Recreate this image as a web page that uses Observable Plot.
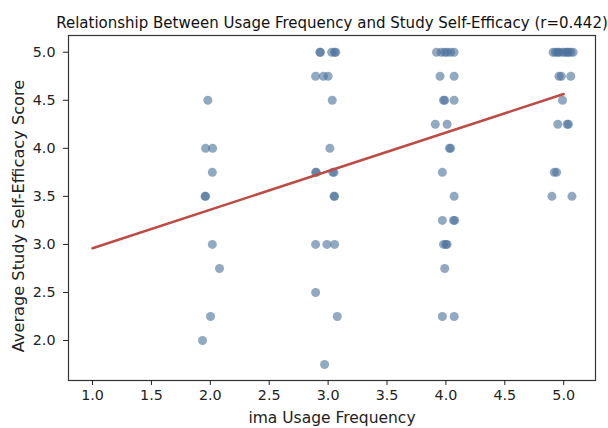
<!DOCTYPE html>
<html>
<head>
<meta charset="utf-8">
<script src="https://cdn.jsdelivr.net/npm/d3@7"></script>
<script src="https://cdn.jsdelivr.net/npm/@observablehq/plot@0.6"></script>
<style>
  html, body { margin: 0; padding: 0; background: #fff; }
  #chart svg { display: block; }
</style>
</head>
<body>
<div id="chart"></div>
<script>
// Jittered usage frequency (x) and average self-efficacy score (y)
const freq = [
  // ~2
  1.979, 1.96, 2.02, 2.017, 1.96, 1.955, 2.017, 2.078, 2.002, 1.934,
  // ~3
  2.93, 2.935, 3.03, 3.055, 3.065,
  2.894, 2.96, 3.0,
  3.035,
  3.015,
  2.894, 2.90, 3.04, 3.05,
  3.05, 3.055,
  2.894, 2.99, 3.055,
  2.894,
  3.078,
  2.97,
  // ~4
  3.92, 3.96, 3.99, 4.01, 4.04, 4.07,
  3.95, 4.07,
  3.98, 3.99, 4.07,
  3.91, 4.01,
  4.03, 4.04,
  3.97,
  4.07,
  3.97, 4.065, 4.075,
  3.98, 4.0, 4.01,
  3.99,
  3.97, 4.07,
  // ~5
  4.91, 4.93, 4.95, 4.96, 4.99, 5.01, 5.03, 5.04, 5.06, 5.08,
  4.96, 4.98, 5.06,
  4.99,
  4.95, 5.03, 5.04,
  4.92, 4.94,
  4.90, 5.07
];
const score = [
  4.5, 4.0, 4.0, 3.75, 3.5, 3.5, 3.0, 2.75, 2.25, 2.0,
  5.0, 5.0, 5.0, 5.0, 5.0,
  4.75, 4.75, 4.75,
  4.5,
  4.0,
  3.75, 3.75, 3.75, 3.75,
  3.5, 3.5,
  3.0, 3.0, 3.0,
  2.5,
  2.25,
  1.75,
  5.0, 5.0, 5.0, 5.0, 5.0, 5.0,
  4.75, 4.75,
  4.5, 4.5, 4.5,
  4.25, 4.25,
  4.0, 4.0,
  3.75,
  3.5,
  3.25, 3.25, 3.25,
  3.0, 3.0, 3.0,
  2.75,
  2.25, 2.25,
  5.0, 5.0, 5.0, 5.0, 5.0, 5.0, 5.0, 5.0, 5.0, 5.0,
  4.75, 4.75, 4.75,
  4.5,
  4.25, 4.25, 4.25,
  3.75, 3.75,
  3.5, 3.5
];
// Regression line endpoints
const fitX = [1.0, 5.0];
const fitY = [2.96, 4.565];

const xTicks = [1.0, 1.5, 2.0, 2.5, 3.0, 3.5, 4.0, 4.5, 5.0];
const yTicks = [2.0, 2.5, 3.0, 3.5, 4.0, 4.5, 5.0];

const titleText = "Relationship Between Usage Frequency and Study Self-Efficacy (r=0.442)";
const xLabel = "ima Usage Frequency";
const yLabel = "Average Study Self-Efficacy Score";

const points = freq.map((f, i) => ({x: f, y: score[i]}));
const fit = fitX.map((f, i) => ({x: f, y: fitY[i]}));

const chart = Plot.plot({
  width: 608,
  height: 428,
  marginLeft: 68,
  marginRight: 13,
  marginTop: 35,
  marginBottom: 48,
  style: {fontFamily: "'DejaVu Sans', sans-serif", fontSize: "14px", color: "#222", background: "#fff"},
  x: {domain: [0.796, 5.27]},
  y: {domain: [1.584, 5.174]},
  marks: [
    Plot.frame({stroke: "#333", strokeWidth: 1.2}),
    Plot.axisX(xTicks, {tickFormat: d3.format(".1f"), tickSize: 5, tickPadding: 4, fontSize: 14.3, label: null}),
    Plot.axisY(yTicks, {tickFormat: d3.format(".1f"), tickSize: 5, tickPadding: 8, fontSize: 14.3, label: null}),
    Plot.text([xLabel], {frameAnchor: "bottom", dy: 42, fontSize: 15.5, fill: "#222"}),
    Plot.text([yLabel], {frameAnchor: "left", textAnchor: "middle", dx: -50, dy: 8, rotate: -90, fontSize: 16.2, fill: "#222"}),
    Plot.text([titleText], {frameAnchor: "top", lineAnchor: "bottom", dx: 0, dy: -8, fontSize: 15, fill: "#111"}),
    Plot.dot(points, {x: "x", y: "y", r: 4.5, fill: "#4a6f99", fillOpacity: 0.6, stroke: "none"}),
    Plot.line(fit, {x: "x", y: "y", stroke: "#bd4b46", strokeWidth: 2.5})
  ]
});
document.getElementById("chart").appendChild(chart);
</script>
</body>
</html>
